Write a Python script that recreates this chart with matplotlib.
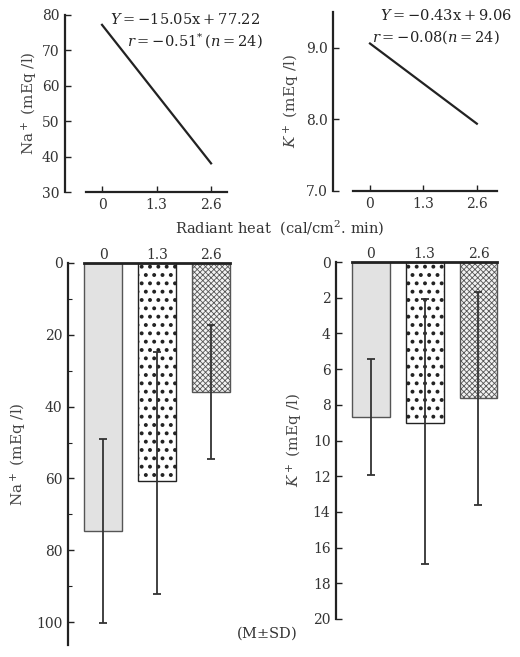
import matplotlib
matplotlib.use("Agg")
import matplotlib.pyplot as plt
from matplotlib.ticker import MultipleLocator

plt.rcParams['font.family'] = ['DejaVu Serif']
plt.rcParams['mathtext.fontset'] = 'dejavuserif'

# data
heat = [0, 1.3, 2.6]
heat_labels = ['0', '1.3', '2.6']
na_line = [77.22, 38.09]
k_line = [9.06, 7.94]
na_mean = [74.6, 60.7, 35.8]
na_sd_up = [25.5, 36.0, 18.6]
na_sd_down = [25.7, 31.5, 18.9]
k_mean = [8.7, 9.0, 7.6]
k_sd_up = [3.25, 6.9, 5.9]
k_sd_down = [3.25, 7.9, 6.0]

W, H = 520, 657
fig = plt.figure(figsize=(W / 100, H / 100), dpi=100)


def px_axes(left, top, right, bottom):
    return fig.add_axes([left / W, 1 - bottom / H, (right - left) / W, (bottom - top) / H])


def px_text(x, y, s, **kw):
    fig.text(x / W, 1 - y / H, s, **kw)


ink = '#222222'
grey_txt = '#444444'


def style_top(ax, lo):
    for s in ['top', 'right']:
        ax.spines[s].set_visible(False)
    for s in ['left', 'bottom']:
        ax.spines[s].set_color(ink)
        ax.spines[s].set_linewidth(1.6)
    ax.spines['bottom'].set_bounds(lo, ax.get_xlim()[1])
    ax.tick_params(direction='in', length=4, width=1, color=ink,
                   labelsize=10, labelcolor='#333333', pad=4)
    ax.set_xticks(heat)
    ax.set_xticklabels(heat_labels)


# top left: Na regression
ax1 = px_axes(65, 15, 227, 192)
ax1.plot([heat[0], heat[-1]], na_line, color=ink, lw=1.6)
ax1.set_xlim(-0.883, 2.98)
ax1.set_ylim(30, 80)
ax1.set_yticks([30, 40, 50, 60, 70, 80])
style_top(ax1, -0.38)
ax1.set_ylabel(r'Na$^+$ (mEq /l)', fontsize=11, color=grey_txt, labelpad=2)
px_text(110, 20, r'$Y=-15.05\mathrm{x}+77.22$', fontsize=10.5, va='center', ha='left', color=ink)
px_text(127, 41, r'$r=-0.51^{*}\,(n=24)$', fontsize=10.5, va='center', ha='left', color=ink)

# top right: K regression
ax2 = px_axes(333, 12, 497, 191)
ax2.plot([heat[0], heat[-1]], k_line, color=ink, lw=1.6)
ax2.set_xlim(-0.9, 3.09)
ax2.set_ylim(7.0, 9.5)
ax2.set_yticks([7.0, 8.0, 9.0])
ax2.set_yticklabels(['7.0', '8.0', '9.0'])
style_top(ax2, -0.41)
ax2.set_ylabel(r'$K^+$ (mEq /l)', fontsize=11, color=grey_txt, labelpad=3)
px_text(380, 15, r'$Y=-0.43\mathrm{x}+9.06$', fontsize=10.5, va='center', ha='left', color=ink)
px_text(372, 37, r'$r=-0.08(n=24)$', fontsize=10.5, va='center', ha='left', color=ink)

px_text(280, 228, r'Radiant heat  (cal/cm$^2$. min)', fontsize=10.5, ha='center', va='center',
        color='#333333')


def bar_panel(ax, mean, up, down, ymax, major, minor=None):
    pos = list(range(len(mean)))
    bars = ax.bar(pos, mean, width=0.7, zorder=2)
    faces = ['#e2e2e2', 'white', '#f2f2f2']
    edges = ['#555555', '#222222', '#555555']
    hatches = [None, '..', 'xxxxxx']
    hlw = [1.0, 1.6, 0.6]
    for b, fc, ec, ht, lw in zip(bars, faces, edges, hatches, hlw):
        b.set_facecolor(fc)
        b.set_edgecolor(ec)
        b.set_linewidth(1.0)
        if ht:
            b.set_hatch(ht)
            if hasattr(b, 'set_hatch_linewidth'):
                b.set_hatch_linewidth(lw)
    ax.errorbar(pos, mean, yerr=[up, down], fmt='none', ecolor='#333333',
                elinewidth=1.3, capsize=3, capthick=1.3, zorder=3)
    ax.set_xlim(-0.65, 2.4)
    ax.set_ylim(ymax, 0)
    for s in ['right', 'bottom']:
        ax.spines[s].set_visible(False)
    ax.spines['left'].set_color(ink)
    ax.spines['left'].set_linewidth(1.6)
    ax.spines['top'].set_color(ink)
    ax.spines['top'].set_linewidth(2.0)
    ax.spines['top'].set_bounds(-0.35, 2.35)
    ax.xaxis.tick_top()
    ax.set_xticks(pos)
    ax.set_xticklabels(heat_labels)
    ax.tick_params(axis='x', length=0, pad=1, labelsize=10, labelcolor='#333333')
    ax.yaxis.set_major_locator(MultipleLocator(major))
    if minor:
        ax.yaxis.set_minor_locator(MultipleLocator(minor))
    ax.tick_params(axis='y', which='both', direction='in', color=ink, labelsize=10,
                   labelcolor='#333333', pad=4)
    ax.tick_params(axis='y', which='major', length=4, width=1)
    ax.tick_params(axis='y', which='minor', length=3, width=0.8)


# bottom left: Na bars
ax3 = px_axes(68, 263, 233, 645)
bar_panel(ax3, na_mean, na_sd_up, na_sd_down, 106.4, 20, 10)
ax3.set_ylabel(r'Na$^+$ (mEq /l)', fontsize=11, color=grey_txt, labelpad=6)

# bottom right: K bars
ax4 = px_axes(336, 262, 500, 619)
bar_panel(ax4, k_mean, k_sd_up, k_sd_down, 20, 2)
ax4.set_ylabel(r'$K^+$ (mEq /l)', fontsize=11, color=grey_txt, labelpad=6)

px_text(267, 633, r'(M$\pm$SD)', fontsize=10.5, ha='center', va='center', color='#333333')

fig.savefig('out.png', dpi=100)
